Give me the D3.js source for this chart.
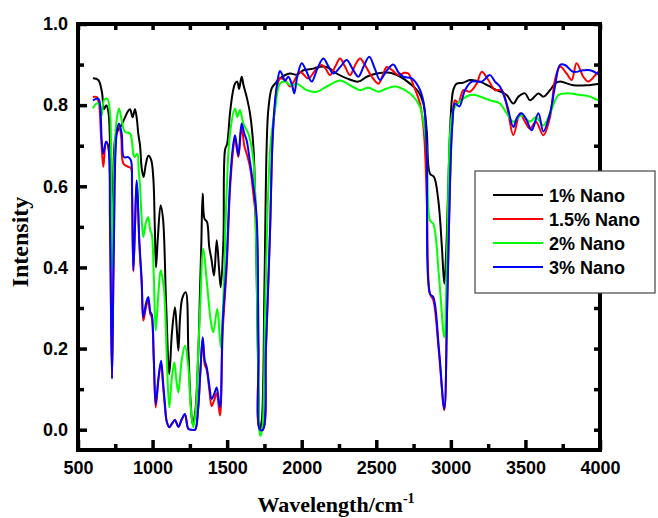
<!DOCTYPE html>
<html>
<head>
<meta charset="utf-8">
<script src="https://cdn.jsdelivr.net/npm/d3@7"></script>
<style>
  body { margin: 0; background: #fff; }
  svg text { font-family: "Liberation Sans", Arial, sans-serif; font-weight: bold; }
</style>
</head>
<body>
<svg width="658" height="518"></svg>
<script>
// wavenumber (cm-1), intensity pairs
var nano1 = [[600,0.866],[636,0.862],[660,0.833],[675,0.79],[690,0.80],[705,0.78],[718,0.60],[726,0.45],[735,0.60],[750,0.72],[770,0.74],[790,0.75],[815,0.77],[835,0.785],[849,0.79],[866,0.77],[882,0.79],[895,0.765],[904,0.73],[916,0.70],[927,0.645],[940,0.623],[955,0.655],[972,0.675],[990,0.666],[1005,0.62],[1015,0.50],[1023,0.40],[1035,0.47],[1054,0.553],[1070,0.52],[1090,0.32],[1112,0.137],[1130,0.24],[1150,0.302],[1162,0.25],[1173,0.195],[1185,0.28],[1200,0.325],[1222,0.339],[1240,0.195],[1255,0.07],[1269,0.014],[1285,0.04],[1307,0.195],[1318,0.343],[1327,0.46],[1336,0.582],[1348,0.52],[1365,0.512],[1380,0.45],[1395,0.42],[1412,0.38],[1430,0.467],[1445,0.40],[1457,0.351],[1475,0.467],[1486,0.69],[1500,0.705],[1519,0.78],[1537,0.83],[1553,0.853],[1568,0.858],[1580,0.84],[1597,0.87],[1610,0.849],[1631,0.82],[1653,0.78],[1676,0.697],[1695,0.45],[1710,0.1],[1720,0.0],[1732,0.02],[1750,0.35],[1765,0.70],[1776,0.788],[1798,0.841],[1821,0.853],[1854,0.866],[1921,0.878],[1966,0.875],[2011,0.886],[2078,0.89],[2100,0.893],[2168,0.894],[2234,0.878],[2302,0.866],[2380,0.858],[2436,0.87],[2503,0.878],[2592,0.88],[2659,0.87],[2726,0.853],[2782,0.833],[2816,0.804],[2838,0.738],[2860,0.631],[2887,0.623],[2916,0.565],[2940,0.45],[2956,0.36],[2970,0.45],[2983,0.607],[2999,0.771],[3016,0.837],[3039,0.853],[3080,0.855],[3128,0.862],[3195,0.858],[3250,0.848],[3307,0.837],[3374,0.825],[3419,0.804],[3453,0.821],[3497,0.829],[3531,0.812],[3587,0.829],[3620,0.821],[3665,0.837],[3698,0.853],[3732,0.858],[3821,0.849],[3911,0.849],[4000,0.853]];

var nano15 = [[600,0.82],[625,0.82],[640,0.805],[655,0.72],[670,0.648],[688,0.71],[703,0.70],[715,0.5],[728,0.126],[740,0.45],[759,0.735],[775,0.752],[790,0.72],[804,0.656],[837,0.648],[855,0.645],[862,0.58],[871,0.39],[882,0.50],[893,0.61],[900,0.57],[911,0.46],[927,0.36],[938,0.269],[955,0.30],[971,0.32],[985,0.285],[994,0.278],[1008,0.17],[1021,0.055],[1040,0.125],[1057,0.165],[1070,0.11],[1083,0.055],[1095,0.02],[1112,0.006],[1130,0.015],[1150,0.024],[1173,0.007],[1195,0.025],[1217,0.037],[1240,0.002],[1262,0.0],[1285,0.0],[1305,0.05],[1320,0.14],[1336,0.225],[1350,0.16],[1363,0.148],[1380,0.10],[1396,0.058],[1415,0.075],[1430,0.09],[1452,0.035],[1470,0.24],[1497,0.40],[1519,0.59],[1540,0.69],[1553,0.72],[1575,0.672],[1597,0.746],[1615,0.70],[1631,0.68],[1653,0.648],[1676,0.58],[1698,0.50],[1710,0.2],[1720,0.0],[1740,0.0],[1760,0.2],[1787,0.48],[1805,0.72],[1821,0.80],[1838,0.85],[1854,0.866],[1888,0.862],[1921,0.846],[1950,0.86],[1989,0.882],[2044,0.866],[2090,0.885],[2134,0.899],[2160,0.89],[2190,0.874],[2225,0.895],[2257,0.915],[2290,0.895],[2324,0.874],[2360,0.90],[2391,0.915],[2430,0.895],[2470,0.87],[2514,0.853],[2545,0.875],[2570,0.894],[2610,0.885],[2648,0.874],[2690,0.88],[2715,0.878],[2749,0.849],[2793,0.804],[2820,0.73],[2840,0.55],[2860,0.335],[2882,0.32],[2920,0.19],[2956,0.048],[2975,0.3],[2994,0.6],[3010,0.76],[3028,0.812],[3050,0.805],[3084,0.837],[3128,0.833],[3173,0.853],[3207,0.882],[3251,0.862],[3296,0.837],[3341,0.837],[3380,0.79],[3419,0.726],[3464,0.78],[3497,0.759],[3531,0.742],[3570,0.759],[3620,0.726],[3665,0.771],[3698,0.862],[3732,0.895],[3776,0.878],[3810,0.862],[3843,0.903],[3888,0.870],[3922,0.858],[3978,0.878],[4000,0.886]];

var nano2 = [[600,0.792],[625,0.804],[645,0.80],[659,0.775],[674,0.812],[696,0.816],[715,0.78],[722,0.55],[727,0.40],[735,0.55],[750,0.72],[759,0.763],[775,0.792],[793,0.763],[815,0.734],[849,0.73],[862,0.71],[871,0.68],[880,0.672],[898,0.68],[907,0.64],[916,0.60],[927,0.52],[938,0.475],[955,0.51],[971,0.524],[985,0.49],[994,0.483],[1008,0.38],[1021,0.244],[1040,0.34],[1054,0.393],[1077,0.343],[1095,0.18],[1112,0.055],[1130,0.13],[1146,0.166],[1160,0.12],[1173,0.092],[1195,0.17],[1217,0.207],[1240,0.154],[1255,0.06],[1273,0.006],[1290,0.05],[1305,0.18],[1318,0.294],[1340,0.446],[1363,0.368],[1390,0.269],[1407,0.24],[1434,0.298],[1457,0.203],[1475,0.327],[1497,0.59],[1519,0.73],[1553,0.792],[1568,0.771],[1586,0.788],[1608,0.755],[1642,0.73],[1676,0.664],[1695,0.45],[1710,0.1],[1722,-0.015],[1735,0.0],[1755,0.3],[1790,0.70],[1821,0.788],[1854,0.853],[1888,0.858],[1930,0.848],[1966,0.853],[2033,0.837],[2100,0.833],[2168,0.846],[2257,0.861],[2324,0.849],[2391,0.837],[2447,0.843],[2514,0.833],[2570,0.841],[2626,0.846],[2693,0.837],[2749,0.821],[2793,0.796],[2820,0.75],[2838,0.689],[2860,0.516],[2882,0.508],[2920,0.38],[2956,0.228],[2975,0.45],[3005,0.771],[3028,0.796],[3084,0.816],[3128,0.825],[3162,0.825],[3262,0.812],[3329,0.804],[3374,0.78],[3419,0.759],[3475,0.775],[3531,0.759],[3570,0.771],[3620,0.75],[3665,0.78],[3721,0.825],[3776,0.829],[3866,0.825],[3933,0.821],[3989,0.812],[4000,0.812]];

var nano3 = [[600,0.812],[636,0.816],[648,0.80],[659,0.713],[670,0.68],[688,0.71],[703,0.697],[715,0.50],[728,0.126],[740,0.45],[759,0.73],[775,0.755],[793,0.73],[808,0.672],[837,0.672],[855,0.664],[862,0.60],[871,0.393],[882,0.50],[893,0.615],[900,0.58],[911,0.467],[927,0.368],[938,0.277],[955,0.31],[971,0.327],[985,0.29],[994,0.285],[1008,0.18],[1021,0.063],[1040,0.13],[1057,0.17],[1070,0.12],[1083,0.063],[1095,0.02],[1112,0.006],[1130,0.015],[1150,0.024],[1173,0.007],[1195,0.025],[1217,0.039],[1240,0.002],[1262,0.0],[1285,0.0],[1305,0.05],[1320,0.14],[1336,0.228],[1350,0.17],[1363,0.154],[1380,0.11],[1396,0.076],[1415,0.09],[1430,0.104],[1452,0.055],[1470,0.261],[1497,0.417],[1519,0.607],[1540,0.70],[1553,0.726],[1575,0.676],[1597,0.755],[1615,0.73],[1631,0.713],[1653,0.66],[1676,0.60],[1698,0.524],[1710,0.2],[1720,0.0],[1740,0.0],[1760,0.2],[1787,0.483],[1805,0.72],[1821,0.81],[1838,0.86],[1854,0.884],[1870,0.875],[1888,0.86],[1910,0.87],[1935,0.85],[1950,0.829],[1970,0.87],[2000,0.903],[2030,0.885],[2067,0.858],[2105,0.89],[2145,0.915],[2180,0.895],[2212,0.878],[2260,0.895],[2302,0.911],[2340,0.89],[2380,0.87],[2415,0.895],[2453,0.919],[2490,0.89],[2525,0.862],[2570,0.885],[2614,0.90],[2650,0.88],[2681,0.87],[2737,0.866],[2782,0.846],[2816,0.809],[2838,0.689],[2860,0.335],[2882,0.327],[2920,0.2],[2956,0.051],[2975,0.3],[2994,0.607],[3010,0.75],[3028,0.804],[3057,0.797],[3095,0.837],[3140,0.858],[3207,0.858],[3262,0.874],[3296,0.858],[3329,0.846],[3374,0.804],[3419,0.746],[3445,0.77],[3475,0.78],[3508,0.763],[3542,0.738],[3587,0.78],[3620,0.735],[3665,0.78],[3698,0.846],[3732,0.899],[3765,0.899],[3821,0.882],[3888,0.886],[3933,0.886],[4000,0.874]];

var seriesNames = ["1% Nano", "1.5% Nano", "2% Nano", "3% Nano"];
var seriesColors = ["#000000", "#ff0000", "#00ff00", "#0000ff"];
var xMajor = [500, 1000, 1500, 2000, 2500, 3000, 3500, 4000];
var xMinor = [750, 1250, 1750, 2250, 2750, 3250, 3750];
var yMajor = [0.0, 0.2, 0.4, 0.6, 0.8, 1.0];
var yMinor = [0.1, 0.3, 0.5, 0.7, 0.9];

var svg = d3.select("svg"),
    plotLeft = 78, plotRight = 600, plotTop = 24, plotBottom = 450;

var x = d3.scaleLinear().domain([500, 4000]).range([plotLeft, plotRight]);
var y = d3.scaleLinear().domain([-0.05, 1.0]).range([plotBottom, plotTop]);

// curves (drawn in legend order so blue ends on top)
var line = d3.line()
    .x(function(d) { return x(d[0]); })
    .y(function(d) { return y(d[1]); })
    .curve(d3.curveCatmullRom.alpha(0.5));

[nano1, nano15, nano2, nano3].forEach(function(s, i) {
  svg.append("path")
      .datum(s)
      .attr("d", line)
      .attr("fill", "none")
      .attr("stroke", seriesColors[i])
      .attr("stroke-width", 2)
      .attr("stroke-linejoin", "round");
});

// axes, ticks pointing inwards on all four sides
function styleAxis(g) {
  g.select(".domain").remove();
  g.selectAll(".tick line").attr("stroke", "#000").attr("stroke-width", 3.5);
  g.selectAll(".tick text").attr("fill", "#000").style("font-size", "18px");
}

svg.append("g").attr("transform", "translate(0," + plotBottom + ")")
    .call(d3.axisBottom(x).tickValues(xMajor).tickSize(-10).tickPadding(11).tickFormat(d3.format("d")))
    .call(styleAxis);
svg.append("g").attr("transform", "translate(0," + plotBottom + ")")
    .call(d3.axisBottom(x).tickValues(xMinor).tickSize(-6).tickFormat(""))
    .call(styleAxis);
svg.append("g").attr("transform", "translate(0," + plotTop + ")")
    .call(d3.axisTop(x).tickValues(xMajor.concat(xMinor)).tickSize(-6).tickFormat(""))
    .call(styleAxis);

svg.append("g").attr("transform", "translate(" + plotLeft + ",0)")
    .call(d3.axisLeft(y).tickValues(yMajor).tickSize(-9).tickPadding(10).tickFormat(d3.format(".1f")))
    .call(styleAxis);
svg.append("g").attr("transform", "translate(" + plotLeft + ",0)")
    .call(d3.axisLeft(y).tickValues(yMinor).tickSize(-6).tickFormat(""))
    .call(styleAxis);
svg.append("g").attr("transform", "translate(" + plotRight + ",0)")
    .call(d3.axisRight(y).tickValues(yMajor.concat(yMinor)).tickSize(-6).tickFormat(""))
    .call(styleAxis);

// frame
svg.append("rect")
    .attr("x", plotLeft).attr("y", plotTop)
    .attr("width", plotRight - plotLeft).attr("height", plotBottom - plotTop)
    .attr("fill", "none").attr("stroke", "#000").attr("stroke-width", 4);

// axis titles
svg.append("text")
    .attr("transform", "translate(28,242) rotate(-90)")
    .attr("text-anchor", "middle")
    .style("font-family", "'Liberation Serif', 'Times New Roman', serif")
    .style("font-size", "24px")
    .text("Intensity");

var xt = svg.append("text")
    .attr("x", 336).attr("y", 512)
    .attr("text-anchor", "middle")
    .style("font-family", "'Liberation Serif', 'Times New Roman', serif")
    .style("font-size", "22px");
xt.append("tspan").text("Wavelength/cm");
xt.append("tspan").attr("dy", -9).style("font-size", "14px").text("-1");

// legend
var legend = svg.append("g");
legend.append("rect")
    .attr("x", 475).attr("y", 171)
    .attr("width", 180).attr("height", 122)
    .attr("fill", "#fff").attr("stroke", "#444").attr("stroke-width", 1.2);

seriesNames.forEach(function(name, i) {
  var cy = 195 + i * 24;
  legend.append("line")
      .attr("x1", 493).attr("x2", 543)
      .attr("y1", cy).attr("y2", cy)
      .attr("stroke", seriesColors[i]).attr("stroke-width", 2);
  legend.append("text")
      .attr("x", 549).attr("y", cy + 6.5)
      .style("font-size", "18px")
      .text(name);
});
</script>
</body>
</html>
